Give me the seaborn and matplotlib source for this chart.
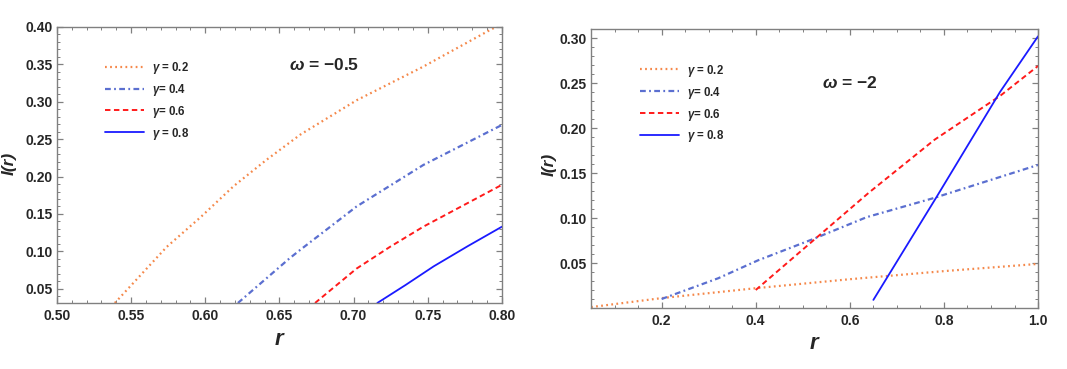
import matplotlib
matplotlib.use("Agg")
import matplotlib.pyplot as plt
from matplotlib.ticker import MultipleLocator, FormatStrFormatter
import seaborn as sns

# ---- data ----
gamma_labels = [r"$\gamma$ = 0.2", r"$\gamma$= 0.4", r"$\gamma$= 0.6", r"$\gamma$ = 0.8"]

# left panel, omega = -0.5
r_left_g02 = [0.539, 0.574, 0.597, 0.619, 0.641, 0.664, 0.702, 0.747, 0.792, 0.80]
i_left_g02 = [0.031, 0.106, 0.146, 0.187, 0.222, 0.256, 0.302, 0.347, 0.396, 0.404]
r_left_g04 = [0.622, 0.657, 0.664, 0.702, 0.747, 0.800]
i_left_g04 = [0.031, 0.091, 0.102, 0.160, 0.2155, 0.269]
r_left_g06 = [0.674, 0.702, 0.7245, 0.747, 0.800]
i_left_g06 = [0.031, 0.077, 0.106, 0.133, 0.189]
r_left_g08 = [0.716, 0.735, 0.754, 0.777, 0.800]
i_left_g08 = [0.031, 0.055, 0.080, 0.107, 0.133]

# right panel, omega = -2
r_right_g02 = [0.05, 0.2, 0.4, 0.6, 0.8, 1.0]
i_right_g02 = [0.001, 0.011, 0.022, 0.032, 0.041, 0.049]
r_right_g04 = [0.2, 0.32, 0.405, 0.519, 0.636, 0.777, 1.0]
i_right_g04 = [0.010, 0.033, 0.053, 0.076, 0.101, 0.122, 0.159]
r_right_g06 = [0.40, 0.52, 0.64, 0.78, 0.92, 1.0]
i_right_g06 = [0.020, 0.074, 0.128, 0.187, 0.236, 0.269]
r_right_g08 = [0.65, 0.785, 0.919, 1.0]
i_right_g08 = [0.009, 0.124, 0.240, 0.302]

colors = ["#f5884a", "#5b6fd0", "#ff1a1a", "#1a1aff"]
styles = [(0, (0.8, 1.5)), (0, (2.6, 1.5, 0.8, 1.5)), (0, (2.8, 1.8)), "-"]
widths = [1.6, 1.6, 1.4, 1.3]

sns.set_style("white")
plt.rcParams["font.family"] = ["Liberation Sans", "DejaVu Sans"]
plt.rcParams["mathtext.fontset"] = "custom"
plt.rcParams["mathtext.it"] = "Liberation Sans:italic:bold"
plt.rcParams["mathtext.rm"] = "Liberation Sans:bold"
plt.rcParams["mathtext.bf"] = "Liberation Sans:bold"

fig = plt.figure(figsize=(10.67, 3.69), dpi=100)
ax1 = fig.add_axes([0.0534, 0.1789, 0.417, 0.748])
ax2 = fig.add_axes([0.5539, 0.1653, 0.419, 0.756])

left_series = [(r_left_g02, i_left_g02), (r_left_g04, i_left_g04),
               (r_left_g06, i_left_g06), (r_left_g08, i_left_g08)]
right_series = [(r_right_g02, i_right_g02), (r_right_g04, i_right_g04),
                (r_right_g06, i_right_g06), (r_right_g08, i_right_g08)]

for ax, series in [(ax1, left_series), (ax2, right_series)]:
    for k, (xs, ys) in enumerate(series):
        sns.lineplot(x=xs, y=ys, ax=ax, color=colors[k], linestyle=styles[k],
                     linewidth=widths[k], label=gamma_labels[k], sort=False)

# axis ranges and ticks
ax1.set_xlim(0.5, 0.8)
ax1.set_ylim(0.031, 0.40)
ax1.xaxis.set_major_locator(MultipleLocator(0.05))
ax1.xaxis.set_minor_locator(MultipleLocator(0.01))
ax1.yaxis.set_major_locator(MultipleLocator(0.05))
ax1.yaxis.set_minor_locator(MultipleLocator(0.01))
ax1.xaxis.set_major_formatter(FormatStrFormatter("%.2f"))
ax1.yaxis.set_major_formatter(FormatStrFormatter("%.2f"))

ax2.set_xlim(0.05, 1.0)
ax2.set_ylim(0.0, 0.31)
ax2.xaxis.set_major_locator(MultipleLocator(0.2))
ax2.xaxis.set_minor_locator(MultipleLocator(0.05))
ax2.set_yticks([0.05, 0.10, 0.15, 0.20, 0.25, 0.30])
ax2.yaxis.set_minor_locator(MultipleLocator(0.01))
ax2.xaxis.set_major_formatter(FormatStrFormatter("%.1f"))
ax2.yaxis.set_major_formatter(FormatStrFormatter("%.2f"))

for ax in (ax1, ax2):
    for sp in ax.spines.values():
        sp.set_visible(True)
        sp.set_color("#808080")
        sp.set_linewidth(1.0)
    ax.tick_params(which="both", direction="in", top=True, right=True,
                   bottom=True, left=True, color="#808080")
    ax.tick_params(which="major", length=4, width=0.9)
    ax.tick_params(which="minor", length=2.2, width=0.7)
    ax.tick_params(axis="x", which="major", pad=4, labelsize=10)
    ax.tick_params(axis="y", which="major", pad=3, labelsize=10)
    for lab in ax.get_xticklabels() + ax.get_yticklabels():
        lab.set_fontweight("bold")
    ax.set_xlabel("r", fontsize=16, fontweight="bold", fontstyle="italic")
    ax.set_ylabel("I(r)", fontsize=12.5, fontweight="bold", fontstyle="italic")

ax1.xaxis.set_label_coords(0.499, -0.095)
ax1.yaxis.set_label_coords(-0.091, 0.504)
ax2.xaxis.set_label_coords(0.499, -0.09)
ax2.yaxis.set_label_coords(-0.076, 0.513)

# legends
leg_kw = dict(frameon=False, handlelength=3.4, handletextpad=0.65,
              labelspacing=0.52, borderpad=0, borderaxespad=0, loc="upper left",
              prop={"weight": "bold", "size": 8.3})
ax1.legend(bbox_to_anchor=(0.108, 0.882), **leg_kw)
ax2.legend(bbox_to_anchor=(0.110, 0.880), **leg_kw)

# omega annotations
ax1.text(0.601, 0.862, r"$\omega$ = −0.5", transform=ax1.transAxes,
         ha="center", va="center", fontsize=12.5, fontweight="bold")
ax2.text(0.579, 0.806, r"$\omega$ = −2", transform=ax2.transAxes,
         ha="center", va="center", fontsize=12.5, fontweight="bold")

fig.savefig("out.png", dpi=100)
